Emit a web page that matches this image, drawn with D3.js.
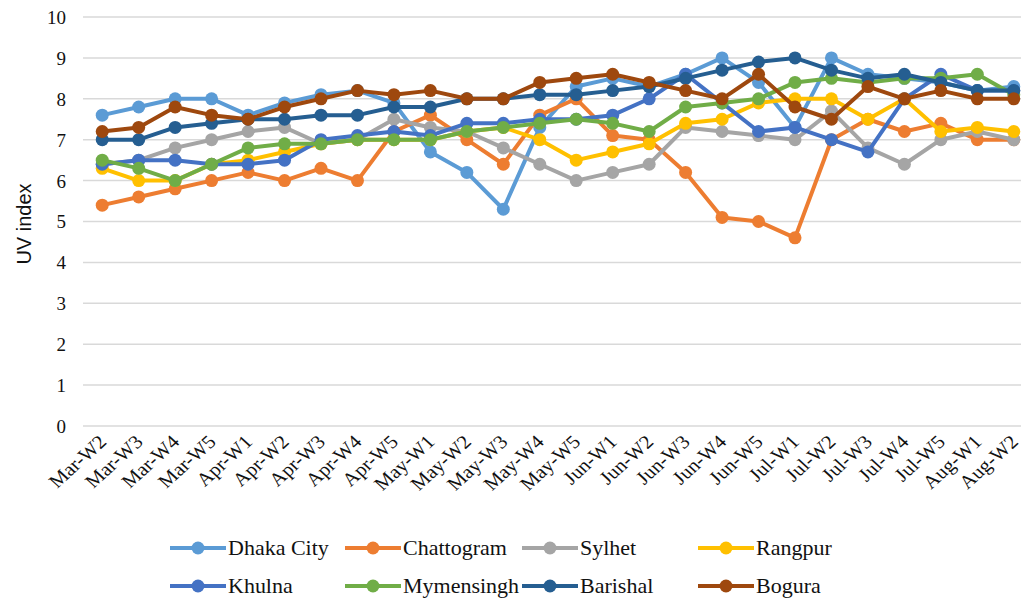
<!DOCTYPE html>
<html>
<head>
<meta charset="utf-8">
<script src="https://cdn.jsdelivr.net/npm/d3@7"></script>
<style>
  html, body { margin: 0; padding: 0; background: #fff; }
  svg { display: block; }
  .serif { font-family: "Liberation Serif", "DejaVu Serif", "Times New Roman", serif !important; }
  .sans { font-family: "Liberation Sans", Arial, sans-serif; }
</style>
</head>
<body>
<svg id="chart" width="1021" height="598"></svg>
<script>
const categories = ["Mar-W2","Mar-W3","Mar-W4","Mar-W5","Apr-W1","Apr-W2","Apr-W3","Apr-W4","Apr-W5",
  "May-W1","May-W2","May-W3","May-W4","May-W5","Jun-W1","Jun-W2","Jun-W3","Jun-W4","Jun-W5",
  "Jul-W1","Jul-W2","Jul-W3","Jul-W4","Jul-W5","Aug-W1","Aug-W2"];

const dhakaCity  = [7.6,7.8,8.0,8.0,7.6,7.9,8.1,8.2,7.9,6.7,6.2,5.3,7.3,8.3,8.5,8.3,8.6,9.0,8.4,7.3,9.0,8.6,8.5,8.4,8.2,8.3];
const chattogram = [5.4,5.6,5.8,6.0,6.2,6.0,6.3,6.0,7.2,7.6,7.0,6.4,7.6,8.0,7.1,7.0,6.2,5.1,5.0,4.6,7.0,7.5,7.2,7.4,7.0,7.0];
const sylhet     = [6.4,6.5,6.8,7.0,7.2,7.3,6.9,7.0,7.5,7.3,7.2,6.8,6.4,6.0,6.2,6.4,7.3,7.2,7.1,7.0,7.7,6.8,6.4,7.0,7.2,7.0];
const rangpur    = [6.3,6.0,6.0,6.4,6.5,6.7,6.9,7.0,7.0,7.0,7.2,7.3,7.0,6.5,6.7,6.9,7.4,7.5,7.9,8.0,8.0,7.5,8.0,7.2,7.3,7.2];
const khulna     = [6.4,6.5,6.5,6.4,6.4,6.5,7.0,7.1,7.2,7.1,7.4,7.4,7.5,7.5,7.6,8.0,8.6,7.9,7.2,7.3,7.0,6.7,8.0,8.6,8.2,8.2];
const mymensingh = [6.5,6.3,6.0,6.4,6.8,6.9,6.9,7.0,7.0,7.0,7.2,7.3,7.4,7.5,7.4,7.2,7.8,7.9,8.0,8.4,8.5,8.4,8.5,8.5,8.6,8.1];
const barishal   = [7.0,7.0,7.3,7.4,7.5,7.5,7.6,7.6,7.8,7.8,8.0,8.0,8.1,8.1,8.2,8.3,8.5,8.7,8.9,9.0,8.7,8.5,8.6,8.4,8.2,8.2];
const bogura     = [7.2,7.3,7.8,7.6,7.5,7.8,8.0,8.2,8.1,8.2,8.0,8.0,8.4,8.5,8.6,8.4,8.2,8.0,8.6,7.8,7.5,8.3,8.0,8.2,8.0,8.0];

const seriesNames  = ["Dhaka City","Chattogram","Sylhet","Rangpur","Khulna","Mymensingh","Barishal","Bogura"];
const seriesValues = [dhakaCity, chattogram, sylhet, rangpur, khulna, mymensingh, barishal, bogura];
const seriesColors = ["#5B9BD5","#ED7D31","#A5A5A5","#FFC000","#4472C4","#70AD47","#255E91","#9E480E"];
const yTicks = [0,1,2,3,4,5,6,7,8,9,10];
const yTitle = "UV index";

const series = seriesNames.map((name, i) => ({
  name, color: seriesColors[i],
  values: seriesValues[i].map((v, j) => ({cat: categories[j], v}))
}));

const svg = d3.select("#chart");

const x = d3.scalePoint().domain(categories).range([84, 1032]).padding(0.5);
const y = d3.scaleLinear().domain([0, 10]).range([426, 17]);

// gridlines
svg.append("g").selectAll("line").data(yTicks).join("line")
  .attr("x1", 83).attr("x2", 1032)
  .attr("y1", d => y(d)).attr("y2", d => y(d))
  .attr("stroke", "#d9d9d9").attr("stroke-width", 1.5);

// y axis labels
const yAxis = d3.axisLeft(y).tickValues(yTicks).tickSize(0).tickPadding(0);
const gy = svg.append("g").attr("transform", "translate(66,0)").call(yAxis);
gy.attr("font-family", null).attr("font-size", null);
gy.select(".domain").remove();
gy.selectAll("text").attr("class", "serif")
  .style("font-size", "19px").attr("fill", "#111").attr("dy", "0.34em");

// x axis labels
const xAxis = d3.axisBottom(x).tickSize(0).tickPadding(0);
const gx = svg.append("g").attr("transform", "translate(0,426)").call(xAxis);
gx.attr("font-family", null).attr("font-size", null);
gx.select(".domain").remove();
gx.selectAll("text").attr("class", "serif")
  .style("font-size", "19px").attr("fill", "#111")
  .attr("text-anchor", "end")
  .attr("dy", null).attr("y", 0)
  .attr("transform", "translate(5,17) scale(1.1,1) rotate(-45)");

// y title
svg.append("text").attr("class", "sans")
  .attr("transform", "translate(31,224) rotate(-90)")
  .attr("text-anchor", "middle")
  .style("font-size", "20px").attr("fill", "#111")
  .text(yTitle);

// lines
const line = d3.line().x(d => x(d.cat)).y(d => y(d.v));
const gs = svg.append("g").selectAll("g").data(series).join("g");
gs.append("path")
  .attr("d", d => line(d.values))
  .attr("fill", "none").attr("stroke", d => d.color)
  .attr("stroke-width", 4).attr("stroke-linejoin", "round");
gs.each(function(s) {
  d3.select(this).selectAll("circle").data(s.values).join("circle")
    .attr("cx", d => x(d.cat)).attr("cy", d => y(d.v))
    .attr("r", 6.5).attr("fill", s.color);
});

// legend
const legCols = [170, 345, 522, 698];
const legRows = [548, 586];
const leg = svg.append("g").selectAll("g").data(series).join("g")
  .attr("transform", (d, i) => `translate(${legCols[i % 4]},${legRows[Math.floor(i / 4)]})`);
leg.append("line").attr("x1", 0).attr("x2", 56).attr("y1", 0).attr("y2", 0)
  .attr("stroke", d => d.color).attr("stroke-width", 4);
leg.append("circle").attr("cx", 28).attr("cy", 0).attr("r", 6.5).attr("fill", d => d.color);
leg.append("text").attr("class", "serif")
  .attr("transform", "translate(58,0) scale(1.1,1)")
  .attr("dy", "0.35em")
  .style("font-size", "20px").attr("fill", "#111")
  .text(d => d.name);
</script>
</body>
</html>
